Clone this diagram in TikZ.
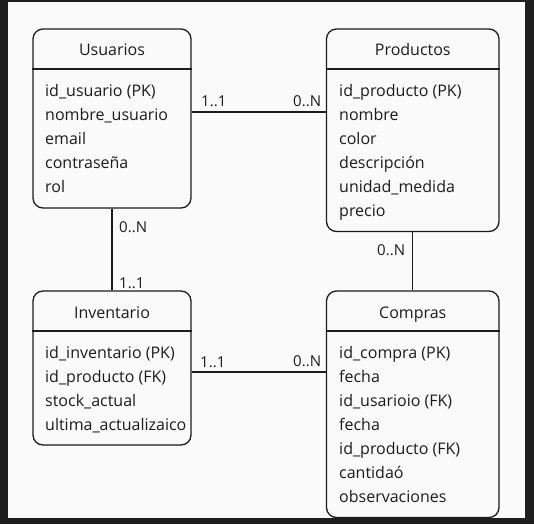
\documentclass[tikz,border=0pt]{standalone}
\usepackage{fontspec}
\setmainfont{Open Sans}
\usetikzlibrary{calc}

\definecolor{frame}{HTML}{1E1E1E}
\definecolor{paper}{HTML}{FAFAFA}
\definecolor{ink}{HTML}{1C1C1C}

\begin{document}
\begin{tikzpicture}[x=1pt,y=-1pt,
	entity/.style={draw=ink, line width=1.3pt, rounded corners=10pt, inner sep=0pt},
	title/.style={anchor=base, inner sep=0pt, text=ink, font=\fontsize{16}{16}\selectfont},
	attr/.style={anchor=base west, inner sep=0pt, text=ink, font=\fontsize{16}{16}\selectfont},
	card/.style={anchor=base west, inner sep=0pt, text=ink, font=\fontsize{15}{15}\selectfont},
	rel/.style={draw=ink, line width=1.3pt}]

% background %{{{2

	\fill[frame] (0,0) rectangle (534,524);
	\fill[paper] (8,2) rectangle (525,518);
	\useasboundingbox (0,0) rectangle (534,524);

% parameters %{{{2

	\def\rowstep{24}
	\coordinate (hdrA) at (0,69);
	\coordinate (hdrB) at (0,331);
	\coordinate (lvlA) at (0,112);
	\coordinate (lvlB) at (0,372);

% entities %{{{2

	\node[entity, minimum width=158pt, minimum height=179pt] (usuarios) at (112,118.5) {};
	\node[entity, minimum width=172.5pt, minimum height=202.5pt] (productos) at (412.75,130.25) {};
	\node[entity, minimum width=158pt, minimum height=154pt] (inventario) at (112,368) {};
	\node[entity, minimum width=172.5pt, minimum height=226.5pt] (compras) at (412.75,404.25) {};

% header lines %{{{2

	\draw[rel] (usuarios.west |- hdrA) -- (usuarios.east |- hdrA);
	\draw[rel] (productos.west |- hdrA) -- (productos.east |- hdrA);
	\draw[rel] (inventario.west |- hdrB) -- (inventario.east |- hdrB);
	\draw[rel] (compras.west |- hdrB) -- (compras.east |- hdrB);

% titles %{{{2

	\node[title] (usuariosT) at (112,56) {Usuarios};
	\node[title] (productosT) at (412.75,56) {Productos};
	\node[title] (inventarioT) at (112,318) {Inventario};
	\node[title] (comprasT) at (412.75,318) {Compras};

% attributes %{{{2

	\foreach \t [count=\i] in {id\_usuario (PK), nombre\_usuario, email, contraseña, rol}
		\node[attr] (u\i) at (45,{96.7+\rowstep*(\i-1)}) {\t};

	\foreach \t [count=\i] in {id\_producto (PK), nombre, color, descripción, unidad\_medida, precio}
		\node[attr] (p\i) at (339,{96.7+\rowstep*(\i-1)}) {\t};

	\foreach \t [count=\i] in {id\_inventario (PK), id\_producto (FK), stock\_actual, ultima\_actualizaico}
		\node[attr] (i\i) at (45,{358.7+\rowstep*(\i-1)}) {\t};

	\foreach \t [count=\i] in {id\_compra (PK), fecha, id\_usarioio (FK), fecha, id\_producto (FK), cantidaó, observaciones}
		\node[attr] (c\i) at (339,{358.7+\rowstep*(\i-1)}) {\t};

% relations %{{{2

	\draw[rel] (usuarios.east |- lvlA) -- (productos.west |- lvlA);
	\draw[rel] (usuarios.south) -- (inventario.north);
	\draw[rel] (productos.south) -- (compras.north);
	\draw[rel] (inventario.east |- lvlB) -- (compras.west |- lvlB);

% cardinality labels %{{{2

	\node[card] (upA) at (201,106) {1..1};
	\node[card] (upB) at (293,106) {0..N};
	\node[card] (uiA) at (119,232) {0..N};
	\node[card] (uiB) at (119,288) {1..1};
	\node[card] (icA) at (200,367) {1..1};
	\node[card] (icB) at (293,366) {0..N};
	\node[card] (pcA) at (377,255) {0..N};

% closing %{{{2

\end{tikzpicture}
\end{document}
